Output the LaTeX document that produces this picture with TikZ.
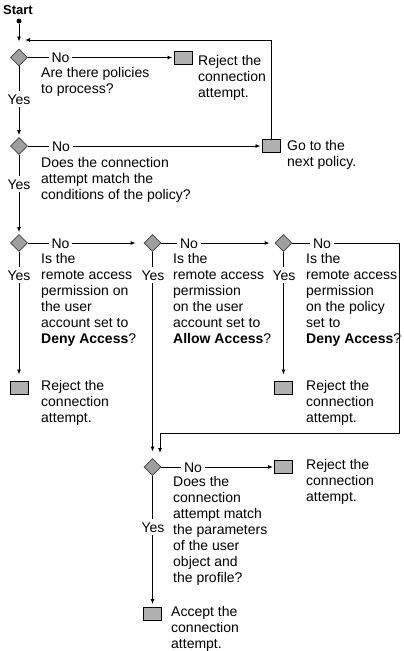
\documentclass[tikz,border=0pt]{standalone}
\usepackage{fontspec}
\setmainfont{Liberation Sans}
\usetikzlibrary{shapes.geometric,arrows.meta}
\begin{document}
\begin{tikzpicture}[x=1pt,y=-1pt,
  every node/.style={font=\fontsize{14}{16}\selectfont},
  dia/.style={diamond,draw=black!75,fill=gray!75,minimum width=17pt,minimum height=17pt,inner sep=0pt,line width=0.8pt},
  box/.style={rectangle,draw=black,fill=gray!62,minimum width=18pt,minimum height=13pt,inner sep=0pt,line width=1pt},
  txt/.style={anchor=base west,align=left,inner sep=0pt},
  lab/.style={anchor=base,fill=white,inner xsep=3pt,inner ysep=3pt},
  conn/.style={line width=0.9pt,-{Latex[length=5pt,width=4pt]}},
  ln/.style={line width=0.9pt}]
\useasboundingbox (0,0) rectangle (404,651);
% start
\node[font=\bfseries\fontsize{13}{15}\selectfont,anchor=base west,inner sep=0pt] (start) at (3,14) {Start};
\node[circle,fill=black,inner sep=0pt,minimum size=5pt] (dot) at (19,21) {};
% decisions
\node[dia] (d1) at (19,57.5) {};
\node[dia] (d2) at (19,146) {};
\node[dia] (d3) at (19,243) {};
\node[dia] (d4) at (152.5,243) {};
\node[dia] (d5) at (283.5,243) {};
\node[dia] (d6) at (152.5,467) {};
% boxes
\node[box] (b1) at (183,57.5) {};
\node[box] (bgo) at (271,146) {};
\node[box] (b3) at (19,387.5) {};
\node[box] (b5) at (283.5,387.5) {};
\node[box] (b6) at (283.5,467) {};
\node[box] (bacc) at (152.5,614) {};
% coordinates
\coordinate (looptip) at (25,40);
\coordinate (loopR) at (399,433);
\coordinate (loopL) at (160,433);
\coordinate (loopend) at (160,453);
% connectors
\draw[conn,shorten >=7pt] (dot) -- (d1);
\draw[conn,shorten >=2pt] (d1) -- (d2);
\draw[conn,shorten >=1pt] (d1) -- (b1);
\draw[conn,shorten >=1pt] (d2) -- (bgo);
\draw[conn] (bgo.north) |- (looptip);
\draw[conn,shorten >=2pt] (d2) -- (d3);
\draw[conn,shorten >=8pt] (d3) -- (d4);
\draw[conn,shorten >=5pt] (d4) -- (d5);
\draw[conn,shorten >=6pt] (d3) -- (b3);
\draw[conn,shorten >=6pt] (d5) -- (b5);
\draw[conn,shorten >=6.5pt] (d4) -- (d6);
\draw[conn] (d5.east) -| (loopR) -- (loopL) -- (loopend);
\draw[conn,shorten >=1pt] (d6) -- (b6);
\draw[conn,shorten >=3pt] (d6) -- (bacc);
% No labels
\node[lab] (no1) at (60.5,62) {No};
\node[lab] (no2) at (61,151) {No};
\node[lab] (no3) at (60.5,248) {No};
\node[lab] (no4) at (189,248) {No};
\node[lab] (no5) at (322,248) {No};
\node[lab] (no6) at (193,472) {No};
% Yes labels
\node[lab] (yes1) at (19,104) {Yes};
\node[lab] (yes2) at (19,189) {Yes};
\node[lab] (yes3) at (19,280) {Yes};
\node[lab] (yes4) at (153,280) {Yes};
\node[lab] (yes5) at (284,280) {Yes};
\node[lab] (yes6) at (153,532) {Yes};
% texts (anchor = baseline of last line)
\node[txt] (q1) at (41,93) {Are there policies\\to process?};
\node[txt] (t1) at (198,97) {Reject the\\connection\\attempt.};
\node[txt] (q2) at (41,199) {Does the connection\\attempt match the\\conditions of the policy?};
\node[txt] (tgo) at (287,166.5) {Go to the\\next policy.};
\node[txt] (q3) at (41,343) {Is the\\remote access\\permission on\\the user\\account set to\\\textbf{Deny Access}?};
\node[txt] (q4) at (173,343) {Is the\\remote access\\permission\\on the user\\account set to\\\textbf{Allow Access}?};
\node[txt] (q5) at (306,343) {Is the\\remote access\\permission\\on the policy\\set to\\\textbf{Deny Access}?};
\node[txt] (t3) at (41,422.5) {Reject the\\connection\\attempt.};
\node[txt] (t5) at (306,422.5) {Reject the\\connection\\attempt.};
\node[txt] (q6) at (173,582) {Does the\\connection\\attempt match\\the parameters\\of the user\\object and\\the profile?};
\node[txt] (t6) at (306,501) {Reject the\\connection\\attempt.};
\node[txt] (tacc) at (171,648.5) {Accept the\\connection\\attempt.};
\end{tikzpicture}
\end{document}
